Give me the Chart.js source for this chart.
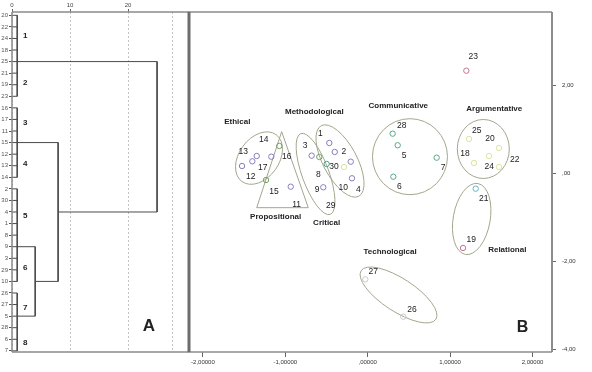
<!DOCTYPE html>
<html>
<head>
<meta charset="utf-8">
<script src="https://cdn.jsdelivr.net/npm/chart.js@4.4.1/dist/chart.umd.min.js"></script>
<style>
  html, body { margin: 0; padding: 0; background: #fff; }
  #wrap { position: relative; width: 592px; height: 372px; }
  #boxA { position: absolute; left: 0; top: 0; width: 190px; height: 372px; }
  #boxB { position: absolute; left: 180px; top: 0; width: 412px; height: 372px; }
</style>
</head>
<body>
<div id="wrap">
  <div id="boxA"><canvas id="dendro"></canvas></div>
  <div id="boxB"><canvas id="scatter"></canvas></div>
</div>
<script>
// ---- panel A: dendrogram ----
const leafLabels = ['20','22','24','18','25','21','19','23','16','17','11','15','12','13','14',
  '2','30','4','1','8','9','3','29','10','26','27','5','28','6','7'];
const clusterNames = ['1','2','3','4','5','6','7','8'];
const clusterSizes = [4, 4, 3, 4, 5, 4, 3, 3];
const branchGroups = [
  { first: '20', last: '23', joinAt: '25' },
  { first: '16', last: '14', joinAt: '15' },
  { first: '2', last: '10', joinAt: '9' },
  { first: '26', last: '7', joinAt: '5' }
];
const leafHeight = 0.9;
const merges = [
  { a: 'g2', b: 'g3', height: 4.0 },
  { a: 'g1', b: 'm0', height: 7.95 },
  { a: 'g0', b: 'm1', height: 25.0 }
];
const distTicks = [0, 10, 20, 27.7];

// ---- panel B: scatter ----
const pointIds = ['13','12','17','14','16','15','11','3','8','29','1','2','10','30','4','9',
  '28','5','7','6','25','20','24','18','22','23','21','19','27','26'];
const pointX = [-1.525,-1.400,-1.347,-1.170,-1.073,-1.234,-0.934,-0.680,-0.587,-0.498,-0.466,-0.400,-0.206,-0.288,-0.191,-0.539,
  0.303,0.364,0.837,0.311,1.229,1.593,1.472,1.290,1.593,1.197,1.311,1.157,-0.029,0.432];
const pointY = [0.170,0.277,0.398,0.382,0.625,-0.148,-0.300,0.405,0.375,0.216,0.693,0.489,0.268,0.148,-0.109,-0.314,
  0.905,0.641,0.359,-0.073,0.784,0.580,0.398,0.239,0.148,2.336,-0.345,-1.693,-2.405,-3.255];
const pointClass = [1,1,1,1,2,2,1,1,2,3,1,1,1,5,1,1,
  4,4,4,4,5,5,5,5,5,6,7,6,8,8];
const labelX = [-1.510,-1.420,-1.274,-1.262,-0.983,-1.137,-0.862,-0.761,-0.600,-0.449,-0.575,-0.288,-0.296,-0.409,-0.114,-0.615,
  0.413,0.441,0.914,0.383,1.323,1.484,1.476,1.181,1.784,1.282,1.408,1.257,0.068,0.538];
const labelY = [0.495,-0.073,0.141,0.777,0.382,-0.414,-0.716,0.625,-0.034,-0.739,0.914,0.505,-0.314,0.155,-0.359,-0.359,
  1.095,0.398,0.125,-0.307,0.973,0.784,0.148,0.450,0.323,2.655,-0.580,-1.495,-2.232,-3.086];
const xTicks = [-2, -1, 0, 1, 2];
const yTicks = [-4, -2, 0, 2];

const groupNames = ['Ethical','Methodological','Propositional','Critical','Communicative','Argumentative','Relational','Technological'];
const groupLabelX = [-1.583, -0.648, -1.117, -0.498, 0.371, 1.536, 1.694, 0.271];
const groupLabelY = [1.184, 1.405, -0.989, -1.118, 1.541, 1.466, -1.739, -1.784];

// outlines drawn round the groups (centre in data units, radii in px)
const ellipses = [
  { cx: -1.319, cy: 0.350, a: 29, b: 20, rot: -54 },
  { cx: -0.336, cy: 0.284, a: 40, b: 17, rot: 62 },
  { cx: -0.633, cy: -0.011, a: 43, b: 13.5, rot: 70 },
  { cx: 0.513, cy: 0.382, a: 37.5, b: 38, rot: 0 },
  { cx: 1.403, cy: 0.557, a: 26, b: 29.5, rot: 0 },
  { cx: 1.262, cy: -1.034, a: 36, b: 18.5, rot: 100 },
  { cx: 0.374, cy: -2.761, a: 44.6, b: 16.5, rot: 33 }
];
const triangle = [[-1.044, 0.95], [-1.347, -0.777], [-0.721, -0.777]];

const FONT = "'Liberation Sans', Arial, sans-serif";
const palette = {
  1: '#8a7cc0', 2: '#73a06a', 3: '#4f9e8c', 4: '#5aa882',
  5: '#dfe3a0', 6: '#c47590', 7: '#6ab0c4', 8: '#c9c9c9'
};

const fmt = (v, d) => {
  let s = Math.abs(v).toFixed(d).replace('.', ',');
  if (s.startsWith('0,')) s = s.slice(1);
  return (v < 0 ? '-' : '') + s;
};

// build dendrogram segments
const idx = (name) => leafLabels.indexOf(name);
const segments = [];
const nodes = {};
leafLabels.forEach((l, i) => segments.push([[0, i], [leafHeight, i]]));
branchGroups.forEach((g, k) => {
  segments.push([[leafHeight, idx(g.first)], [leafHeight, idx(g.last)]]);
  nodes['g' + k] = { x: leafHeight, y: idx(g.joinAt) };
});
merges.forEach((m, k) => {
  const a = nodes[m.a];
  const b = nodes[m.b];
  segments.push([[a.x, a.y], [m.height, a.y]]);
  segments.push([[b.x, b.y], [m.height, b.y]]);
  segments.push([[m.height, a.y], [m.height, b.y]]);
  nodes['m' + k] = { x: m.height, y: (a.y + b.y) / 2 };
});

const frameA = {
  id: 'frameA',
  afterDraw(chart) {
    const { ctx, chartArea: ca, scales } = chart;
    ctx.save();
    ctx.strokeStyle = '#8a8a8a';
    ctx.lineWidth = 1.5;
    ctx.beginPath();
    ctx.moveTo(ca.left, ca.top); ctx.lineTo(ca.right, ca.top);
    ctx.moveTo(ca.left, ca.bottom); ctx.lineTo(ca.right, ca.bottom);
    ctx.moveTo(ca.left, ca.top); ctx.lineTo(ca.left, ca.bottom);
    ctx.stroke();

    ctx.fillStyle = '#222';
    ctx.textAlign = 'center';
    ctx.textBaseline = 'middle';
    ctx.font = 'bold 8px ' + FONT;
    let start = 0;
    clusterNames.forEach((name, i) => {
      const mid = start + (clusterSizes[i] - 1) / 2 + 0.3;
      ctx.fillText(name, scales.x.getPixelForValue(2.3), scales.y.getPixelForValue(mid));
      start += clusterSizes[i];
    });
    ctx.font = 'bold 17px ' + FONT;
    ctx.fillText('A', scales.x.getPixelForValue(23.6), scales.y.getPixelForValue(26.85));
    ctx.restore();
  }
};

new Chart(document.getElementById('dendro'), {
  type: 'scatter',
  data: {
    datasets: segments.map(s => ({
      data: s.map(p => ({ x: p[0], y: p[1] })),
      showLine: true,
      borderColor: '#4a4a4a',
      borderWidth: 1,
      pointRadius: 0
    }))
  },
  options: {
    responsive: true,
    maintainAspectRatio: false,
    animation: false,
    events: [],
    layout: { padding: { left: 0, right: 1, top: 0, bottom: 20 } },
    plugins: { legend: { display: false }, tooltip: { enabled: false } },
    scales: {
      x: {
        type: 'linear', position: 'top', min: 0, max: 30.5,
        afterBuildTicks: s => { s.ticks = distTicks.map(v => ({ value: v })); },
        afterFit: s => { s.height = 12; },
        ticks: {
          callback: v => (v === 27.7 ? '' : String(v)),
          font: { size: 6, family: FONT }, color: '#444', padding: 0, maxRotation: 0, autoSkip: false
        },
        grid: {
          color: '#c4c4c4', lineWidth: 1, tickLength: 3,
          tickColor: c => (c.tick && c.tick.value === 27.7 ? 'rgba(0,0,0,0)' : '#666')
        },
        border: { display: false, dash: [2, 2] }
      },
      y: {
        type: 'linear', reverse: true, min: -0.285, max: 29.1,
        afterBuildTicks: s => { s.ticks = leafLabels.map((_, i) => ({ value: i })); },
        afterFit: s => { s.width = 12; },
        ticks: {
          callback: v => leafLabels[v],
          font: { size: 6, family: FONT }, color: '#555', padding: 1, autoSkip: false
        },
        grid: { drawOnChartArea: false, tickLength: 3, tickColor: '#555' },
        border: { display: false }
      }
    }
  },
  plugins: [frameA]
});

const shapesB = {
  id: 'shapesB',
  beforeDatasetsDraw(chart) {
    const { ctx, scales: { x, y } } = chart;
    ctx.save();
    ctx.strokeStyle = '#a3a68c';
    ctx.lineWidth = 1;
    ellipses.forEach(e => {
      ctx.beginPath();
      ctx.ellipse(x.getPixelForValue(e.cx), y.getPixelForValue(e.cy), e.a, e.b, e.rot * Math.PI / 180, 0, Math.PI * 2);
      ctx.stroke();
    });
    ctx.beginPath();
    triangle.forEach((p, i) => {
      const px = x.getPixelForValue(p[0]);
      const py = y.getPixelForValue(p[1]);
      if (i === 0) ctx.moveTo(px, py); else ctx.lineTo(px, py);
    });
    ctx.closePath();
    ctx.stroke();
    ctx.restore();
  },
  afterDraw(chart) {
    const { ctx, chartArea: ca, scales: { x, y } } = chart;
    ctx.save();
    ctx.fillStyle = '#222';
    ctx.textAlign = 'center';
    ctx.textBaseline = 'middle';
    ctx.font = '8.5px ' + FONT;
    pointIds.forEach((id, i) => {
      ctx.fillText(id, x.getPixelForValue(labelX[i]), y.getPixelForValue(labelY[i]));
    });
    ctx.font = 'bold 8px ' + FONT;
    groupNames.forEach((g, i) => {
      ctx.fillText(g, x.getPixelForValue(groupLabelX[i]), y.getPixelForValue(groupLabelY[i]));
    });
    ctx.font = 'bold 16px ' + FONT;
    ctx.fillText('B', x.getPixelForValue(1.878), y.getPixelForValue(-3.496));

    ctx.strokeStyle = '#8c8c8c';
    ctx.lineWidth = 1.5;
    ctx.beginPath();
    ctx.moveTo(ca.left - 2, ca.top); ctx.lineTo(ca.right, ca.top);
    ctx.moveTo(ca.left - 2, ca.bottom); ctx.lineTo(ca.right, ca.bottom);
    ctx.stroke();
    ctx.lineWidth = 2;
    ctx.beginPath();
    ctx.moveTo(ca.right, ca.top); ctx.lineTo(ca.right, ca.bottom);
    ctx.stroke();
    ctx.strokeStyle = '#6c6c6c';
    ctx.lineWidth = 3;
    ctx.beginPath();
    ctx.moveTo(ca.left - 1, ca.top); ctx.lineTo(ca.left - 1, ca.bottom);
    ctx.stroke();
    ctx.restore();
  }
};

new Chart(document.getElementById('scatter'), {
  type: 'scatter',
  data: {
    datasets: [{
      data: pointIds.map((id, i) => ({ x: pointX[i], y: pointY[i] })),
      pointRadius: 2.7,
      pointHoverRadius: 2.7,
      pointBorderWidth: 1,
      pointBorderColor: pointClass.map(c => palette[c]),
      pointBackgroundColor: 'rgba(0,0,0,0)'
    }]
  },
  options: {
    responsive: true,
    maintainAspectRatio: false,
    animation: false,
    events: [],
    layout: { padding: { left: 10, right: 0, top: 12, bottom: 0 } },
    plugins: { legend: { display: false }, tooltip: { enabled: false } },
    scales: {
      x: {
        type: 'linear', position: 'bottom', min: -2.1566, max: 2.2367,
        afterBuildTicks: s => { s.ticks = xTicks.map(v => ({ value: v })); },
        afterFit: s => { s.height = 20; },
        ticks: {
          callback: v => fmt(v, 5),
          font: { size: 6, family: FONT }, color: '#333', padding: 2, maxRotation: 0, autoSkip: false
        },
        grid: { drawOnChartArea: false, tickLength: 5, tickColor: '#666' },
        border: { display: false }
      },
      y: {
        type: 'linear', position: 'right', min: -4.057, max: 3.67,
        afterBuildTicks: s => { s.ticks = yTicks.map(v => ({ value: v })); },
        afterFit: s => { s.width = 40; },
        ticks: {
          callback: v => fmt(v, 2),
          font: { size: 6, family: FONT }, color: '#333', padding: 6, autoSkip: false
        },
        grid: { drawOnChartArea: false, tickLength: 4, tickColor: '#666' },
        border: { display: false }
      }
    }
  },
  plugins: [shapesB]
});
</script>
</body>
</html>
